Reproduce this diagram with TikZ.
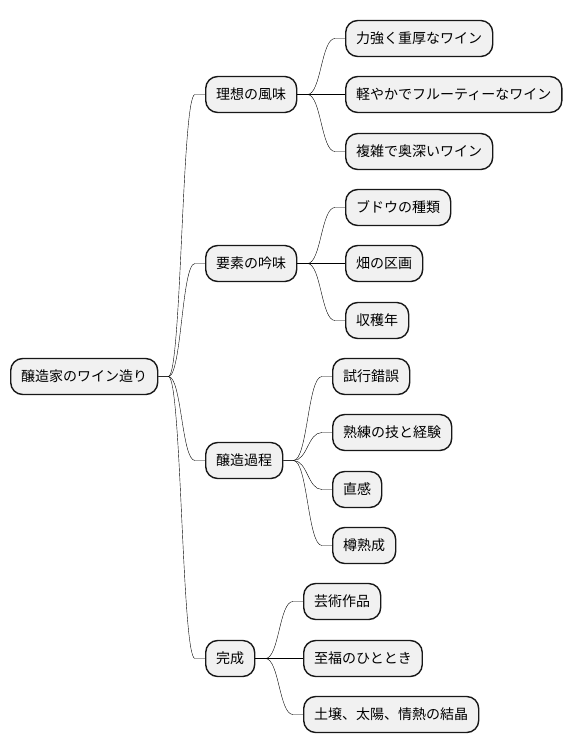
\documentclass[tikz,border=0pt]{standalone}
\usepackage{fontspec}
\setmainfont{Noto Sans CJK JP}
\usetikzlibrary{calc}
\definecolor{boxfill}{HTML}{F1F1F1}
\definecolor{boxline}{HTML}{181818}
\tikzset{
  mmbox/.style={draw=boxline, fill=boxfill, line width=1.4pt, rounded corners=12pt,
    minimum height=36pt, inner xsep=10.5pt, inner ysep=0pt, anchor=west,
    font=\fontsize{14pt}{16pt}\selectfont, text=black},
  branch/.style={draw=boxline, line width=1pt,
    to path={let \p1=(\tikztostart), \p2=(\tikztotarget) in
      -- ({\x1+10pt},\y1) .. controls ({0.5*\x1+0.5*\x2},\y1) and ({0.5*\x1+0.5*\x2},\y2) .. ({\x2-10pt},\y2) -- (\tikztotarget)}}
}
\begin{document}
\begin{tikzpicture}[x=1pt,y=-1pt]
\useasboundingbox (0,0) rectangle (572,752);
% root
\node[mmbox] (root) at (10,376.5) {醸造家のワイン造り};
% level 1
\node[mmbox] (a) at (205,94.5) {理想の風味};
\node[mmbox] (b) at (205,263.5) {要素の吟味};
\node[mmbox] (c) at (205,460.5) {醸造過程};
\node[mmbox] (d) at (205,658.5) {完成};
% level 2
\node[mmbox] (a1) at (345,38.5) {力強く重厚なワイン};
\node[mmbox] (a2) at (345,94.5) {軽やかでフルーティーなワイン};
\node[mmbox] (a3) at (345,151.5) {複雑で奥深いワイン};
\node[mmbox] (b1) at (345,207.5) {ブドウの種類};
\node[mmbox] (b2) at (345,263.5) {畑の区画};
\node[mmbox] (b3) at (345,320.5) {収穫年};
\node[mmbox] (c1) at (332,376.5) {試行錯誤};
\node[mmbox] (c2) at (332,432.5) {熟練の技と経験};
\node[mmbox] (c3) at (332,489.5) {直感};
\node[mmbox] (c4) at (332,545.5) {樽熟成};
\node[mmbox] (d1) at (303,601.5) {芸術作品};
\node[mmbox] (d2) at (303,658.5) {至福のひととき};
\node[mmbox] (d3) at (303,714.5) {土壌、太陽、情熱の結晶};
% connectors
\foreach \p/\c in {root/a,root/b,root/c,root/d,a/a1,a/a2,a/a3,b/b1,b/b2,b/b3,c/c1,c/c2,c/c3,c/c4,d/d1,d/d2,d/d3}
  \draw (\p.east) to[branch] (\c.west);
\end{tikzpicture}
\end{document}
